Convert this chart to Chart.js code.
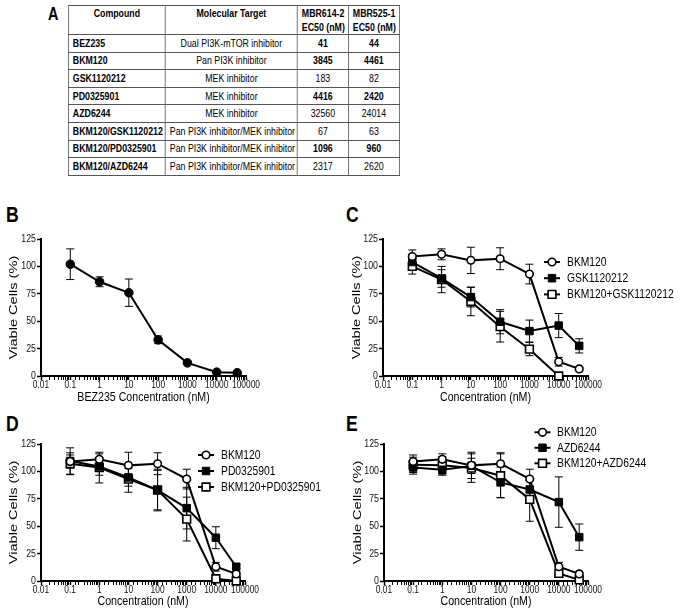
<!DOCTYPE html>
<html>
<head>
<meta charset="utf-8">
<script src="https://cdn.jsdelivr.net/npm/chart.js@4.4.1/dist/chart.umd.min.js"></script>
<style>
  body { margin: 0; background: #fff; }
  #page { position: relative; width: 681px; height: 611px; overflow: hidden; color: #000;
          font-family: "Liberation Sans", Arial, sans-serif; }
  /* the source figure is squeezed horizontally, so text is too */
  .letter { position: absolute; font-weight: bold; font-size: 22px; line-height: 22px;
            transform: scaleX(0.8); transform-origin: 0 0; }
  canvas { position: absolute; }
  #tbl { position: absolute; left: 68px; top: 5px; width: 413.75px; border-collapse: collapse; table-layout: fixed;
         font-size: 11px; transform: scaleX(0.8); transform-origin: 0 0; }
  #tbl th, #tbl td { border: 1px solid #555; padding: 0 5px; white-space: nowrap; overflow: hidden; }
  #tbl tr.hd { height: 27.4px; }
  #tbl tr.hd th { vertical-align: top; line-height: 13.5px; padding-top: 1px; font-weight: bold; text-align: center; }
  #tbl tr.row { height: 17.6px; }
  #tbl td { text-align: center; vertical-align: middle; line-height: 13px; }
  #tbl td.cmp { text-align: left; font-weight: bold; }
</style>
</head>
<body>
<div id="page">
  <div class="letter" style="left:48px; top:5.4px; font-size:18px; line-height:18px;">A</div>
  <table id="tbl"></table>

  <div class="letter" style="left:6px; top:204.2px;">B</div>
  <div class="letter" style="left:346px; top:204.2px;">C</div>
  <div class="letter" style="left:6px; top:413.2px;">D</div>
  <div class="letter" style="left:346px; top:413.2px;">E</div>

  <canvas id="chartB" width="340" height="180" style="left:0; top:225px;"></canvas>
  <canvas id="chartC" width="341" height="180" style="left:340px; top:225px;"></canvas>
  <canvas id="chartD" width="340" height="189" style="left:0; top:420px;"></canvas>
  <canvas id="chartE" width="341" height="189" style="left:340px; top:420px;"></canvas>
</div>

<script>
// ---------- table (panel A) ----------
const compounds = ["BEZ235", "BKM120", "GSK1120212", "PD0325901", "AZD6244",
                   "BKM120/GSK1120212", "BKM120/PD0325901", "BKM120/AZD6244"];
const targets = ["Dual PI3K-mTOR inhibitor", "Pan PI3K inhibitor", "MEK inhibitor", "MEK inhibitor",
                 "MEK inhibitor", "Pan PI3K inhibitor/MEK inhibitor", "Pan PI3K inhibitor/MEK inhibitor",
                 "Pan PI3K inhibitor/MEK inhibitor"];
const ec50Mbr614 = [41, 3845, 183, 4416, 32560, 67, 1096, 2317];
const ec50Mbr525 = [44, 4461, 82, 2420, 24014, 63, 960, 2620];
const significant = [true, true, false, true, false, false, true, false];

// ---------- dose response (panels B-E) ----------
const conc = [0.1, 1, 10, 100, 1000, 10000, 50000];
const xTicks = [0.01, 0.1, 1, 10, 100, 1000, 10000, 100000];
const yTicks = [0, 25, 50, 75, 100, 125];

const bez235    = [102, 86, 76, 33, 12, 3.5, 3];
const bez235Err = [14, 4.5, 12.5, 3.5, 1.5, 1, 0.5];

const bkm120    = [109, 111, 105.5, 107, 93, 13, 6.5];
const bkm120Err = [6, 5, 12, 10, 9, 4, 1.5];

const gsk       = [104, 89, 72, 49.5, 41, 46, 27.5];
const gskErr    = [7, 8, 9, 11, 10, 11, 6.5];
const bkmGsk    = [100, 88, 68, 45, 24.5, 0, null];
const bkmGskErr = [7, 12, 13, 14, 6, 1, 0];

const pd        = [109.5, 104.5, 94.5, 83, 66.5, 39.5, 13];
const pdErr     = [12, 8, 8, 18, 19, 10, 1.5];
const bkmPd     = [107, 103.5, 93, 83, 56.5, 2, 0];
const bkmPdErr  = [10, 14, 12, 19, 20, 2, 1];

const azd       = [103.5, 101.5, 105, 90, 83.5, 72, 40];
const azdErr    = [6, 5, 7, 14, 8, 23, 12];
const bkmAzd    = [106, 105.5, 103, 96, 74.5, 7, 1];
const bkmAzdErr = [7, 8, 13, 20, 20, 3, 1];

const FAM = '"Liberation Sans", Arial, sans-serif';
const SQUEEZE = 0.8;

// ---------- build table ----------
const tbl = document.getElementById("tbl");
let html = '<colgroup><col style="width:121.25px"><col style="width:165px"><col style="width:63.75px"><col style="width:63.75px"></colgroup>';
html += '<tr class="hd"><th>Compound</th><th>Molecular Target</th><th>MBR614-2<br>EC50 (nM)</th><th>MBR525-1<br>EC50 (nM)</th></tr>';
compounds.forEach((c, i) => {
    const w = significant[i] ? "bold" : "normal";
    html += `<tr class="row"><td class="cmp">${c}</td><td>${targets[i]}</td>` +
            `<td style="font-weight:${w}">${ec50Mbr614[i]}</td><td style="font-weight:${w}">${ec50Mbr525[i]}</td></tr>`;
});
tbl.innerHTML = html;

// squeeze every canvas text horizontally (device space) around its anchor
function squeezeText(canvas, sx) {
    const ctx = canvas.getContext("2d");
    const orig = ctx.fillText.bind(ctx);
    ctx.fillText = function (text, x, y, maxWidth) {
        const m = ctx.getTransform();
        const p = m.transformPoint(new DOMPoint(x, y));
        ctx.setTransform(new DOMMatrix().translate(p.x, p.y).scale(sx, 1).translate(-p.x, -p.y).multiply(m));
        if (maxWidth === undefined) orig(text, x, y); else orig(text, x, y, maxWidth);
        ctx.setTransform(m);
    };
}

// ---------- marker looks ----------
const markerStyle = {
    dot:     { pointStyle: "circle", pointRadius: 4.3, pointBackgroundColor: "#000", pointBorderWidth: 1 },
    circle:  { pointStyle: "circle", pointRadius: 3.8, pointBackgroundColor: "#fff", pointBorderWidth: 1.6 },
    square:  { pointStyle: "rect",   pointRadius: 5.3, pointBackgroundColor: "#000", pointBorderWidth: 1 },
    osquare: { pointStyle: "rect",   pointRadius: 5.5, pointBackgroundColor: "#fff", pointBorderWidth: 1.6 }
};

// ---------- plugins ----------
const errorBars = {
    id: "errorBars",
    beforeDatasetsDraw(chart) {
        const { ctx, scales: { x, y } } = chart;
        ctx.save();
        ctx.strokeStyle = "#000";
        ctx.lineWidth = 1;
        chart.data.datasets.forEach(ds => {
            if (!ds.errors) return;
            ds.data.forEach((p, j) => {
                const e = ds.errors[j];
                if (p.y == null || !e) return;
                const px = x.getPixelForValue(p.x);
                const top = y.getPixelForValue(p.y + e);
                const bot = y.getPixelForValue(Math.max(p.y - e, 0));
                ctx.beginPath();
                ctx.moveTo(px, top); ctx.lineTo(px, bot);
                ctx.moveTo(px - 4, top); ctx.lineTo(px + 4, top);
                ctx.moveTo(px - 4, bot); ctx.lineTo(px + 4, bot);
                ctx.stroke();
            });
        });
        ctx.restore();
    }
};

function drawMarker(ctx, ds, x, y) {
    const r = ds.pointRadius;
    ctx.fillStyle = ds.pointBackgroundColor;
    ctx.strokeStyle = "#000";
    ctx.lineWidth = ds.pointBorderWidth;
    ctx.beginPath();
    if (ds.pointStyle === "rect") {
        const h = r * Math.SQRT1_2;
        ctx.rect(x - h, y - h, 2 * h, 2 * h);
    } else {
        ctx.arc(x, y, r, 0, Math.PI * 2);
    }
    ctx.fill();
    ctx.stroke();
}

const lineLegend = {
    id: "lineLegend",
    afterDraw(chart, args, o) {
        if (!o || o.x == null) return;
        const ctx = chart.ctx;
        ctx.save();
        chart.data.datasets.forEach((ds, i) => {
            const y = o.top + i * o.gap;
            ctx.strokeStyle = "#000";
            ctx.lineWidth = 2;
            ctx.beginPath();
            ctx.moveTo(o.x - 8, y); ctx.lineTo(o.x + 8, y);
            ctx.stroke();
            drawMarker(ctx, ds, o.x, y);
            ctx.fillStyle = "#000";
            ctx.font = `12.9px ${FAM}`;
            ctx.textBaseline = "middle";
            ctx.textAlign = "left";
            ctx.fillText(ds.label, o.textX, y + 0.5);
        });
        ctx.restore();
    }
};

// ---------- panel factory ----------
const isDecade = v => xTicks.some(t => Math.abs(t - v) / t < 1e-6);

function makePanel(id, box, series, xTitle, legend) {
    const canvas = document.getElementById(id);
    squeezeText(canvas, SQUEEZE);

    const datasets = series.map(s => Object.assign({
        label: s.label,
        data: conc.map((c, i) => ({ x: c, y: s.values[i] })),
        errors: s.errors,
        borderColor: "#000",
        pointBorderColor: "#000",
        borderWidth: 2,
        tension: 0,
        clip: false,
        spanGaps: false
    }, markerStyle[s.kind]));

    new Chart(canvas, {
        type: "line",
        data: { datasets },
        options: {
            responsive: false,
            animation: false,
            events: [],
            layout: { padding: { left: 0, top: box.top, right: box.right, bottom: 0 } },
            plugins: {
                legend: { display: false },
                tooltip: { enabled: false },
                lineLegend: legend || {}
            },
            scales: {
                x: {
                    type: "logarithmic",
                    min: xTicks[0],
                    max: xTicks[xTicks.length - 1],
                    afterFit: s => { s.height = box.xH; s.paddingLeft = 0; s.paddingRight = 0; },
                    border: { display: true, color: "#000", width: 2 },
                    grid: {
                        drawOnChartArea: false, drawTicks: true, tickLength: 4, tickColor: "#000",
                        tickWidth: c => (c.tick && isDecade(c.tick.value) ? 1.5 : 1)
                    },
                    ticks: {
                        autoSkip: false, maxRotation: 0, minRotation: 0, padding: -1, color: "#111",
                        font: { size: 10.5, family: FAM },
                        callback: v => (isDecade(v) ? String(v) : "")
                    },
                    title: {
                        display: true, text: xTitle, color: "#000",
                        font: { size: 13.3, family: FAM, lineHeight: 1.2 },
                        padding: { top: 0, bottom: 0 }
                    }
                },
                y: {
                    min: yTicks[0],
                    max: yTicks[yTicks.length - 1],
                    afterFit: s => { s.width = box.yW; s.paddingTop = 0; s.paddingBottom = 0; },
                    border: { display: true, color: "#000", width: 2 },
                    grid: { drawOnChartArea: false, drawTicks: true, tickLength: 4, tickColor: "#000", tickWidth: 1.5 },
                    ticks: {
                        stepSize: yTicks[1] - yTicks[0], padding: 1, color: "#111",
                        font: { size: 11, family: FAM }
                    },
                    title: {
                        display: true, text: "Viable Cells (%)", color: "#000",
                        font: { size: 14.6, family: FAM, lineHeight: 1.2 },
                        padding: { top: box.yTitle, bottom: 0 }
                    }
                }
            }
        },
        plugins: [errorBars, lineLegend]
    });
}

makePanel("chartB", { top: 14, right: 94, xH: 29, yW: 41, yTitle: 5 },
    [{ label: "BEZ235", values: bez235, errors: bez235Err, kind: "dot" }],
    "BEZ235 Concentration (nM)");

makePanel("chartC", { top: 14, right: 93, xH: 29, yW: 43, yTitle: 8.5 },
    [{ label: "BKM120", values: bkm120, errors: bkm120Err, kind: "circle" },
     { label: "GSK1120212", values: gsk, errors: gskErr, kind: "square" },
     { label: "BKM120+GSK1120212", values: bkmGsk, errors: bkmGskErr, kind: "osquare" }],
    "Concentration (nM)", { x: 212, textX: 227, top: 37, gap: 16.2 });

makePanel("chartD", { top: 24, right: 95, xH: 28, yW: 41, yTitle: 5 },
    [{ label: "BKM120", values: bkm120, errors: bkm120Err, kind: "circle" },
     { label: "PD0325901", values: pd, errors: pdErr, kind: "square" },
     { label: "BKM120+PD0325901", values: bkmPd, errors: bkmPdErr, kind: "osquare" }],
    "Concentration (nM)", { x: 206, textX: 221, top: 35, gap: 16 });

makePanel("chartE", { top: 24, right: 93, xH: 28, yW: 44, yTitle: 9 },
    [{ label: "BKM120", values: bkm120, errors: bkm120Err, kind: "circle" },
     { label: "AZD6244", values: azd, errors: azdErr, kind: "square" },
     { label: "BKM120+AZD6244", values: bkmAzd, errors: bkmAzdErr, kind: "osquare" }],
    "Concentration (nM)", { x: 202.5, textX: 217, top: 12.3, gap: 15.5 });
</script>
</body>
</html>
